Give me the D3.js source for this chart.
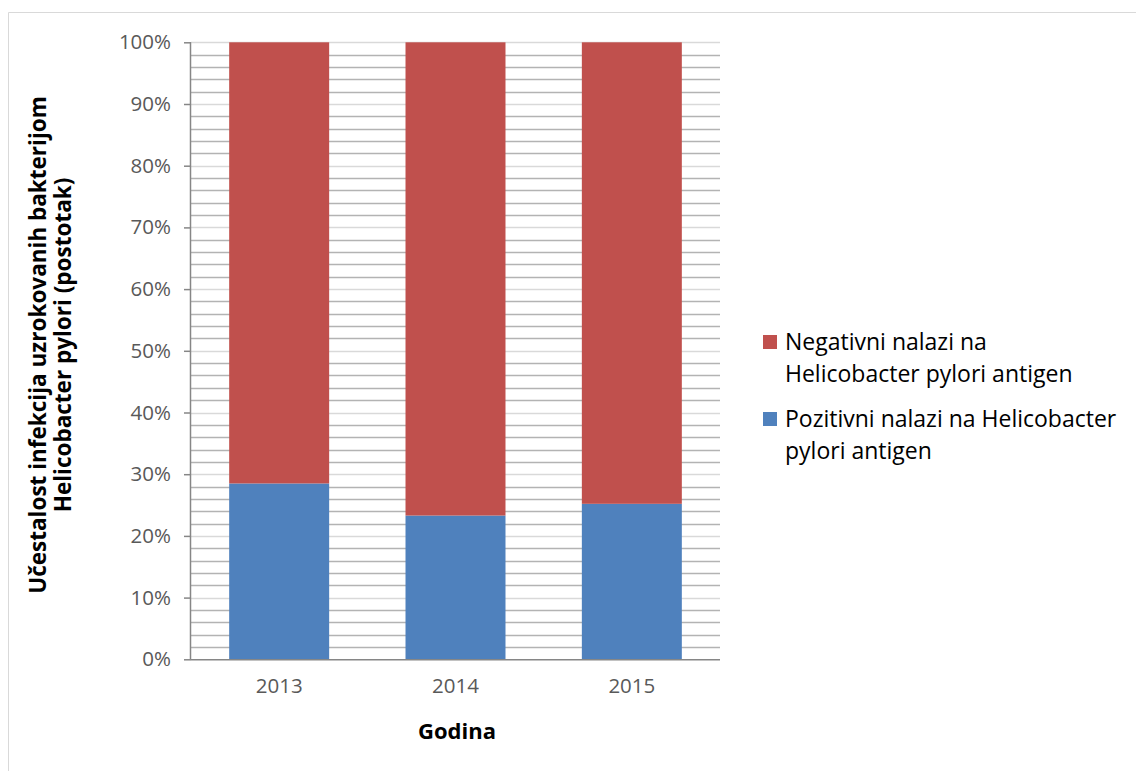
<!DOCTYPE html>
<html><head><meta charset="utf-8">
<script src="https://cdn.jsdelivr.net/npm/d3@7"></script>
<style>body{margin:0;background:#fff}svg{display:block}</style>
</head><body>
<script>
const years = ["2013","2014","2015"];
const positive = [28.5, 23.3, 25.2];
const negative = [71.5, 76.7, 74.8];
const seriesNames = ["Negativni nalazi na Helicobacter pylori antigen","Pozitivni nalazi na Helicobacter pylori antigen"];
const colors = {pos:"#4F81BD", neg:"#C0504D"};
const yTicks = [0,10,20,30,40,50,60,70,80,90,100];

const W=1136,H=771;
const svg=d3.select("body").append("svg").attr("width",W).attr("height",H);
const font="'Open Sans', sans-serif";

// outer border
svg.append("path").attr("d",`M8.5,${H} V12.5 H${W}`).attr("fill","none").attr("stroke","#d9d9d9").attr("stroke-width",1);

const L=191,R=720,T=42.3,B=659.3;
const x=d3.scaleBand().domain(years).range([L,R]).paddingInner(0.433).paddingOuter(0.2165);
const y=d3.scaleLinear().domain([0,100]).range([B,T]);

// gridlines: minor every 2, major every 10
const minor=d3.range(0,101,2).filter(v=>v%10!==0);
svg.append("g").selectAll("line").data(minor).join("line")
 .attr("x1",L).attr("x2",R).attr("y1",d=>Math.round(y(d))+0.5).attr("y2",d=>Math.round(y(d))+0.5)
 .attr("stroke","#b3b3b3").attr("stroke-width",1.3);
svg.append("g").selectAll("line").data(yTicks.filter(v=>v>0)).join("line")
 .attr("x1",L).attr("x2",R).attr("y1",d=>Math.round(y(d))+0.5).attr("y2",d=>Math.round(y(d))+0.5)
 .attr("stroke","#d9d9d9").attr("stroke-width",1.3);

// stacked bars
const data=years.map((yr,i)=>({yr,pos:positive[i],neg:negative[i]}));
const stack=d3.stack().keys(["pos","neg"])(data);
svg.append("g").selectAll("g").data(stack).join("g").attr("fill",d=>colors[d.key])
 .selectAll("rect").data(d=>d).join("rect")
 .attr("x",d=>x(d.data.yr)).attr("width",x.bandwidth())
 .attr("y",d=>y(d[1])).attr("height",d=>y(d[0])-y(d[1]));

// y axis
const ya=svg.append("g").attr("transform",`translate(${L},0)`)
 .call(d3.axisLeft(y).tickValues(yTicks).tickFormat(d=>d+"%").tickSize(7).tickPadding(13));
ya.select(".domain").attr("stroke","#868686").attr("stroke-width",1.5).attr("d",`M-0.5,${T}V${B}`);
ya.selectAll(".tick line").attr("stroke","#868686").attr("stroke-width",1.5);
ya.selectAll(".tick text").attr("font-family",font).attr("font-size",20.5).attr("fill","#595959");

// x axis
const xa=svg.append("g").attr("transform",`translate(0,${B})`)
 .call(d3.axisBottom(x).tickSize(0).tickPadding(19));
xa.select(".domain").attr("stroke","#868686").attr("stroke-width",1.5).attr("d",`M${L},0.5H${R}`);
xa.selectAll(".tick text").attr("font-family",font).attr("font-size",20.5).attr("fill","#595959");

// axis titles
svg.append("text").attr("x",457).attr("y",739).attr("text-anchor","middle")
 .attr("font-family",font).attr("font-weight","bold").attr("font-size",22).text("Godina");
const yt=svg.append("text").attr("transform","translate(0,345) rotate(-90)").attr("text-anchor","middle")
 .attr("font-family",font).attr("font-weight","bold").attr("font-size",22.5);
yt.append("tspan").attr("x",0).attr("y",46).text("Učestalost infekcija uzrokovanih bakterijom");
yt.append("tspan").attr("x",0).attr("y",71).text("Helicobacter pylori (postotak)");

// legend
const leg=[{c:colors.neg,lines:["Negativni nalazi na","Helicobacter pylori antigen"],y:349},
           {c:colors.pos,lines:["Pozitivni nalazi na Helicobacter","pylori antigen"],y:426}];
leg.forEach(l=>{
  svg.append("rect").attr("x",763).attr("y",l.y-14).attr("width",14).attr("height",14).attr("fill",l.c);
  const t=svg.append("text").attr("font-family",font).attr("font-size",23).attr("fill","#000");
  l.lines.forEach((s,i)=>t.append("tspan").attr("x",785).attr("y",l.y+1+i*32).text(s));
});
</script>
</body></html>
